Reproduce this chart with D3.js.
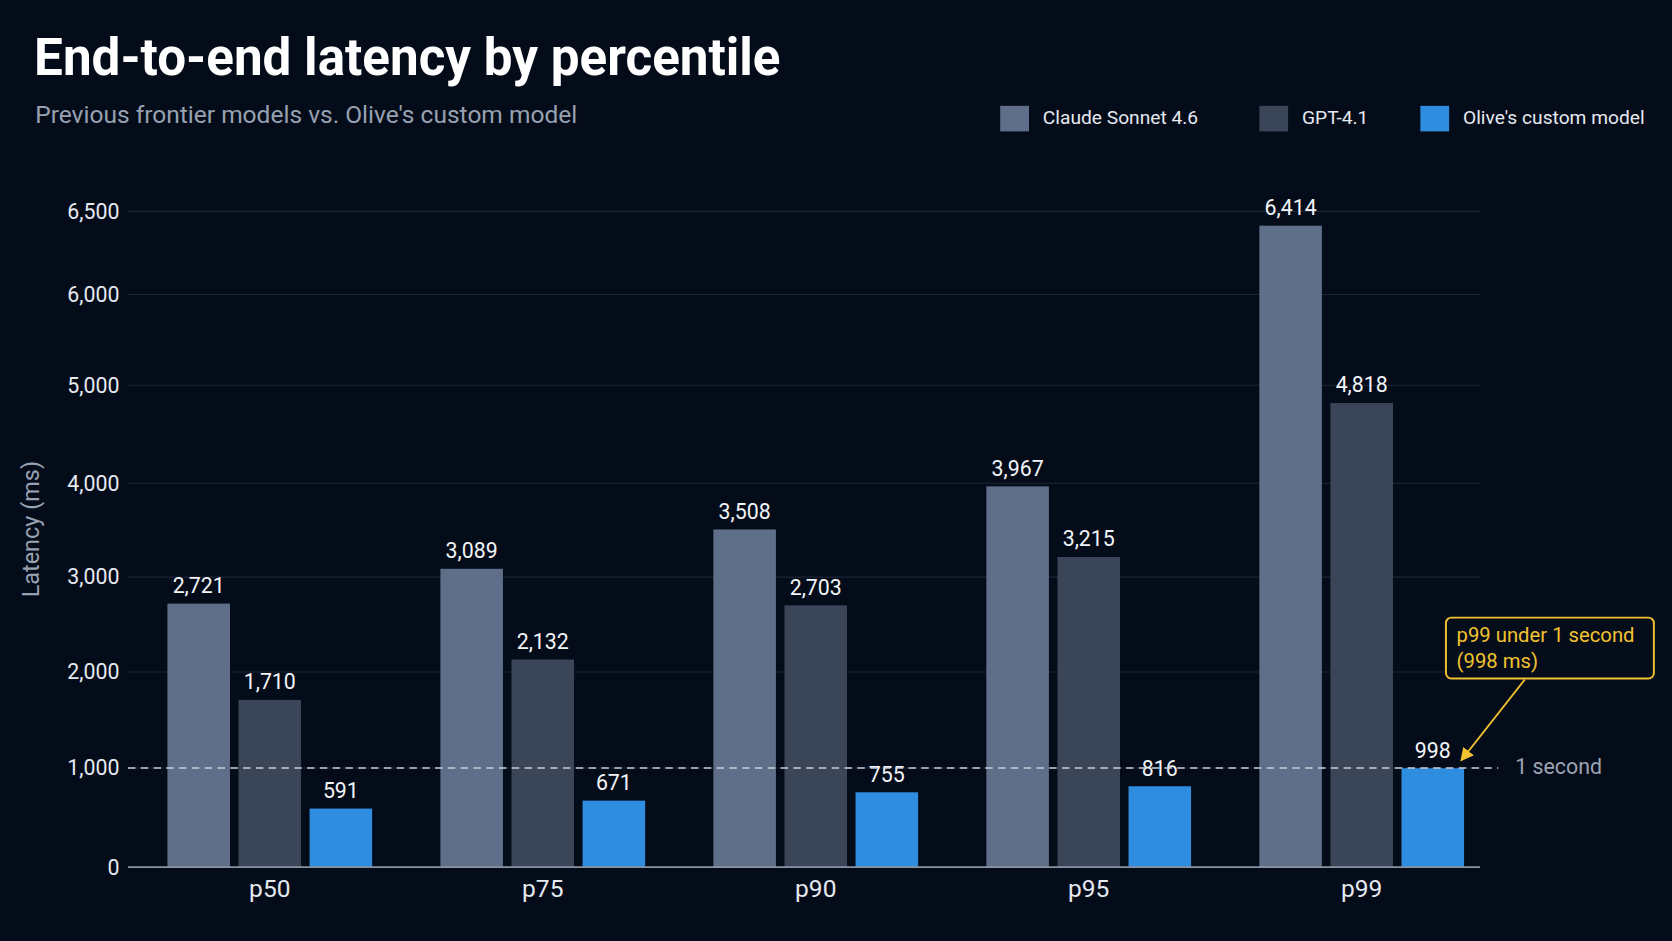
<!DOCTYPE html>
<html><head><meta charset="utf-8">
<script src="https://cdn.jsdelivr.net/npm/d3@7"></script>
<style>html,body{margin:0;background:#040c1a;overflow:hidden}text{font-family:Roboto,"Noto Sans",sans-serif}</style>
</head><body>
<svg id="c" width="1672" height="941" viewBox="0 0 1568 882"></svg>
<script>
const categories=["p50","p75","p90","p95","p99"];
const seriesNames=["Claude Sonnet 4.6","GPT-4.1","Olive's custom model"];
const claude=[2721,3089,3508,3967,6414];
const gpt=[1710,2132,2703,3215,4818];
const olive=[591,671,755,816,998];
const yTicks=[0,1000,2000,3000,4000,5000,6000,6500];
const colors=["#5f6f89","#3a4557","#2f8de0"];
const series=[claude,gpt,olive];

const svg=d3.select("#c");
svg.append("rect").attr("width",1568).attr("height",882).attr("fill","#040c1a");
const x=d3.scaleBand().domain(categories).range([125,1405]).paddingInner(0.25).paddingOuter(0.125);
const xs=d3.scaleBand().domain(d3.range(3)).range([0,x.bandwidth()]).paddingInner(0.12);
const y=d3.scaleLinear().domain(yTicks).range([813,720,630,541,453,361,276,198]);

svg.append("g").selectAll("line").data(yTicks.filter(d=>d>0)).join("line")
 .attr("x1",120).attr("x2",1388).attr("y1",d=>y(d)).attr("y2",d=>y(d))
 .attr("stroke","#1c2536").attr("stroke-width",1);
const ya=svg.append("g").attr("transform","translate(120,0)")
 .call(d3.axisLeft(y).tickValues(yTicks).tickSize(0).tickPadding(8).tickFormat(d3.format(",")));
ya.select(".domain").remove();
ya.selectAll("text").attr("fill","#e6e9ef").attr("font-size",20).style("font-family","Roboto");

categories.forEach((c,i)=>{
 series.forEach((s,j)=>{
  const bx=x(c)+xs(j), v=s[i];
  svg.append("rect").attr("x",bx).attr("width",xs.bandwidth()).attr("y",y(v)).attr("height",y(0)-y(v)).attr("fill",colors[j]);
  svg.append("text").attr("x",bx+xs.bandwidth()/2).attr("y",y(v)-10).attr("text-anchor","middle")
   .attr("fill","#f2f4f7").attr("font-size",20).text(d3.format(",")(v));
 });
});
svg.append("line").attr("x1",120).attr("x2",1388).attr("y1",y(0)).attr("y2",y(0)).attr("stroke","#8a93a3").attr("stroke-width",1.5);
const xa=svg.append("g").attr("transform",`translate(0,${y(0)})`).call(d3.axisBottom(x).tickSize(0).tickPadding(12));
xa.select(".domain").remove();
xa.selectAll("text").attr("fill","#e6e9ef").attr("font-size",23).style("font-family","Roboto");

svg.append("line").attr("x1",120).attr("x2",1405).attr("y1",y(1000)).attr("y2",y(1000))
 .attr("stroke","#c9ced8").attr("stroke-width",1.5).attr("stroke-dasharray","7,5");
svg.append("text").attr("x",1421).attr("y",y(1000)).attr("dominant-baseline","middle").attr("fill","#9ba3b1").attr("font-size",20).text("1 second");

svg.append("rect").attr("x",1356).attr("y",579).attr("width",195).attr("height",57).attr("rx",5)
 .attr("fill","#050d1a").attr("stroke","#f2c230").attr("stroke-width",1.8);
svg.append("text").attr("x",1366).attr("y",602).attr("fill","#f2c230").attr("font-size",19).text("p99 under 1 second");
svg.append("text").attr("x",1366).attr("y",626).attr("fill","#f2c230").attr("font-size",19).text("(998 ms)");
svg.append("defs").append("marker").attr("id","ar").attr("viewBox","0 0 10 10").attr("refX",8).attr("refY",5)
 .attr("markerWidth",7).attr("markerHeight",7).attr("orient","auto")
 .append("path").attr("d","M0,0L10,5L0,10z").attr("fill","#f2c230");
svg.append("line").attr("x1",1430).attr("y1",637).attr("x2",1371).attr("y2",712)
 .attr("stroke","#f2c230").attr("stroke-width",1.8).attr("marker-end","url(#ar)");

svg.append("text").attr("x",32).attr("y",70).attr("fill","#ffffff").attr("font-size",48).attr("font-weight","bold").text("End-to-end latency by percentile");
svg.append("text").attr("x",33).attr("y",115).attr("fill","#98a1b0").attr("font-size",23).text("Previous frontier models vs. Olive's custom model");
svg.append("text").attr("transform","translate(37,496) rotate(-90)").attr("text-anchor","middle").attr("fill","#98a1b0").attr("font-size",22).text("Latency (ms)");

const lx=[938,1181,1332];
seriesNames.forEach((n,j)=>{
 svg.append("rect").attr("x",lx[j]).attr("y",99).attr("width",27).attr("height",24).attr("fill",colors[j]);
 svg.append("text").attr("x",lx[j]+40).attr("y",111).attr("dominant-baseline","middle").attr("fill","#e6e9ef").attr("font-size",18).text(n);
});
</script>
</body></html>
